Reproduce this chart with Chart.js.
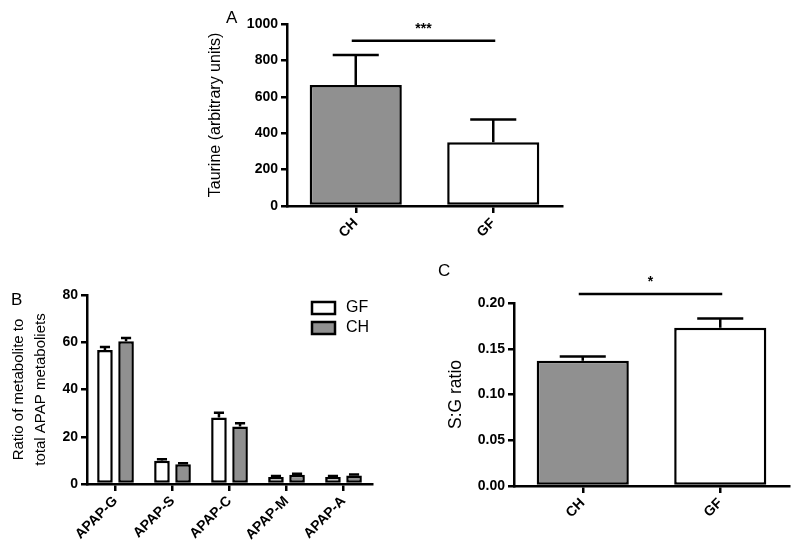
<!DOCTYPE html>
<html lang="en">
<head>
<meta charset="UTF-8">
<title>Taurine / APAP metabolites / S:G ratio</title>
<script src="https://cdn.jsdelivr.net/npm/chart.js"></script>
<style>
  body { margin: 0; background: #fff; }
  #wrap { position: relative; width: 800px; height: 552px; overflow: hidden; }
  canvas { position: absolute; }
  .tag { position: absolute; font: 17px "Liberation Sans", Arial, sans-serif; color: #000; }
</style>
</head>
<body>
<div id="wrap">
  <canvas id="chartA" width="380" height="270" style="left:190px; top:0px;"></canvas>
  <canvas id="chartB" width="400" height="272" style="left:0px; top:280px;"></canvas>
  <canvas id="chartC" width="380" height="302" style="left:420px; top:250px;"></canvas>
  <div class="tag" style="left:226px; top:8px;">A</div>
  <div class="tag" style="left:11px; top:290px;">B</div>
  <div class="tag" style="left:438px; top:261px;">C</div>
</div>

<script>
// panel A - taurine
const taurineLabels = ['CH', 'GF'];
const taurineMeans = [665, 350];
const taurineSEM = [165, 125];
const taurineTicks = [0, 200, 400, 600, 800, 1000];

// panel B - APAP metabolites
const metaboliteLabels = ['APAP-G', 'APAP-S', 'APAP-C', 'APAP-M', 'APAP-A'];
const gfMeans = [56.7, 9.8, 28.1, 3.0, 3.0];
const gfSEM = [1.3, 0.7, 2.1, 0.4, 0.4];
const chMeans = [60.4, 8.4, 24.3, 3.9, 3.6];
const chSEM = [1.4, 0.4, 1.4, 0.4, 0.4];
const metaboliteTicks = [0, 20, 40, 60, 80];

// panel C - S:G ratio
const ratioLabels = ['CH', 'GF'];
const ratioMeans = [0.137, 0.173];
const ratioSEM = [0.0045, 0.010];
const ratioTicks = [0, 0.05, 0.10, 0.15, 0.20];

const GREY = '#909090';
const FONT = '"Liberation Sans", Arial, sans-serif';
const tickFont = { family: FONT, size: 14, weight: 'bold' };

// one-sided error bars (mean + SEM)
const errorBars = {
  id: 'errorBars',
  afterDatasetsDraw(chart, args, opts) {
    const ctx = chart.ctx;
    const y = chart.scales.y;
    chart.data.datasets.forEach((ds, di) => {
      if (!ds.errors) return;
      chart.getDatasetMeta(di).data.forEach((bar, i) => {
        const top = y.getPixelForValue(ds.data[i] + ds.errors[i]);
        const half = bar.width * opts.cap / 2;
        ctx.save();
        ctx.strokeStyle = '#000';
        ctx.lineWidth = 2.5;
        ctx.beginPath();
        ctx.moveTo(bar.x, bar.y);
        ctx.lineTo(bar.x, top);
        ctx.moveTo(bar.x - half, top);
        ctx.lineTo(bar.x + half, top);
        ctx.stroke();
        ctx.restore();
      });
    });
  }
};

// significance line with stars
const sigBar = {
  id: 'sigBar',
  afterDraw(chart, args, opts) {
    if (!opts || !opts.text) return;
    const ctx = chart.ctx;
    const x = chart.scales.x, y = chart.scales.y;
    const x1 = x.getPixelForValue(opts.from) - 4;
    const x2 = x.getPixelForValue(opts.to) + 2;
    const yy = y.getPixelForValue(opts.value);
    ctx.save();
    ctx.strokeStyle = '#000';
    ctx.lineWidth = 2.5;
    ctx.beginPath();
    ctx.moveTo(x1, yy);
    ctx.lineTo(x2, yy);
    ctx.stroke();
    ctx.fillStyle = '#000';
    ctx.font = 'bold 14px ' + FONT;
    ctx.textAlign = 'center';
    ctx.textBaseline = 'middle';
    ctx.fillText(opts.text, (x1 + x2) / 2, yy - 12);
    ctx.restore();
  }
};

// boxed legend inside the plot (panel B)
const boxLegend = {
  id: 'boxLegend',
  afterDraw(chart, args, opts) {
    if (!opts || !opts.show) return;
    const ctx = chart.ctx;
    const area = chart.chartArea;
    ctx.save();
    ctx.font = '16px ' + FONT;
    ctx.textBaseline = 'middle';
    chart.data.datasets.forEach((ds, i) => {
      const bx = area.right - 60;
      const by = area.top + 7 + i * 20;
      ctx.fillStyle = ds.backgroundColor;
      ctx.fillRect(bx, by, 23, 12);
      ctx.strokeStyle = '#000';
      ctx.lineWidth = 2.5;
      ctx.strokeRect(bx, by, 23, 12);
      ctx.fillStyle = '#000';
      ctx.fillText(ds.label, bx + 34, by + 6);
    });
    ctx.restore();
  }
};

function scales(opts) {
  return {
    x: {
      afterFit: s => { s.height = opts.xHeight; },
      grid: { display: true, offset: false, drawOnChartArea: false, drawTicks: true, tickLength: 7, color: '#000', lineWidth: 2.5 },
      border: { display: true, color: '#000', width: 2.5 },
      ticks: { color: '#000', font: tickFont, maxRotation: 45, minRotation: 45, padding: 2, autoSkip: false }
    },
    y: {
      min: opts.ticks[0],
      max: opts.ticks[opts.ticks.length - 1],
      afterFit: s => { s.width = opts.yWidth; },
      afterBuildTicks: s => { s.ticks = opts.ticks.map(v => ({ value: v })); },
      grid: { display: true, drawOnChartArea: false, drawTicks: true, tickLength: 6, color: '#000', lineWidth: 2.5 },
      border: { display: true, color: '#000', width: 2.5 },
      ticks: { color: '#000', font: tickFont, padding: 3, callback: opts.fmt },
      title: {
        display: true,
        text: opts.title,
        color: '#000',
        font: { family: FONT, size: opts.titleSize, lineHeight: opts.titleLH },
        padding: { top: opts.titlePad, bottom: 0 }
      }
    }
  };
}

const common = {
  responsive: false,
  animation: false,
  events: []
};

new Chart(document.getElementById('chartA'), {
  type: 'bar',
  data: {
    labels: taurineLabels,
    datasets: [{
      data: taurineMeans,
      errors: taurineSEM,
      backgroundColor: [GREY, '#ffffff'],
      borderColor: '#000',
      borderWidth: 2.5,
      borderSkipped: false,
      barPercentage: 0.67,
      categoryPercentage: 1
    }]
  },
  options: Object.assign({}, common, {
    layout: { padding: { left: 0, right: 8, top: 24, bottom: 0 } },
    scales: scales({ xHeight: 64, yWidth: 97, ticks: taurineTicks, title: 'Taurine (arbitrary units)', titleSize: 16, titleLH: 1.2, titlePad: 16 }),
    plugins: {
      legend: { display: false },
      tooltip: { enabled: false },
      errorBars: { cap: 0.5 },
      sigBar: { from: 0, to: 1, value: 908, text: '***' }
    }
  }),
  plugins: [errorBars, sigBar]
});

new Chart(document.getElementById('chartB'), {
  type: 'bar',
  data: {
    labels: metaboliteLabels,
    datasets: [
      { label: 'GF', data: gfMeans, errors: gfSEM, backgroundColor: '#ffffff', borderColor: '#000', borderWidth: 2.5, borderSkipped: false, barPercentage: 0.74, categoryPercentage: 0.74 },
      { label: 'CH', data: chMeans, errors: chSEM, backgroundColor: GREY, borderColor: '#000', borderWidth: 2.5, borderSkipped: false, barPercentage: 0.74, categoryPercentage: 0.74 }
    ]
  },
  options: Object.assign({}, common, {
    layout: { padding: { left: 0, right: 28, top: 15, bottom: 0 } },
    scales: scales({ xHeight: 68, yWidth: 87, ticks: metaboliteTicks, title: ['Ratio of metabolite to', 'total APAP metaboliets'], titleSize: 15, titleLH: 1.47, titlePad: 8 }),
    plugins: {
      legend: { display: false },
      tooltip: { enabled: false },
      errorBars: { cap: 0.65 },
      boxLegend: { show: true }
    }
  }),
  plugins: [errorBars, boxLegend]
});

new Chart(document.getElementById('chartC'), {
  type: 'bar',
  data: {
    labels: ratioLabels,
    datasets: [{
      data: ratioMeans,
      errors: ratioSEM,
      backgroundColor: [GREY, '#ffffff'],
      borderColor: '#000',
      borderWidth: 2.5,
      borderSkipped: false,
      barPercentage: 0.67,
      categoryPercentage: 1
    }]
  },
  options: Object.assign({}, common, {
    layout: { padding: { left: 0, right: 11, top: 53, bottom: 0 } },
    scales: scales({ xHeight: 66, yWidth: 94, ticks: ratioTicks, title: 'S:G ratio', titleSize: 17.5, titleLH: 1.2, titlePad: 26, fmt: v => Number(v).toFixed(2) }),
    plugins: {
      legend: { display: false },
      tooltip: { enabled: false },
      errorBars: { cap: 0.5 },
      sigBar: { from: 0, to: 1, value: 0.2097, text: '*' }
    }
  }),
  plugins: [errorBars, sigBar]
});
</script>
</body>
</html>
